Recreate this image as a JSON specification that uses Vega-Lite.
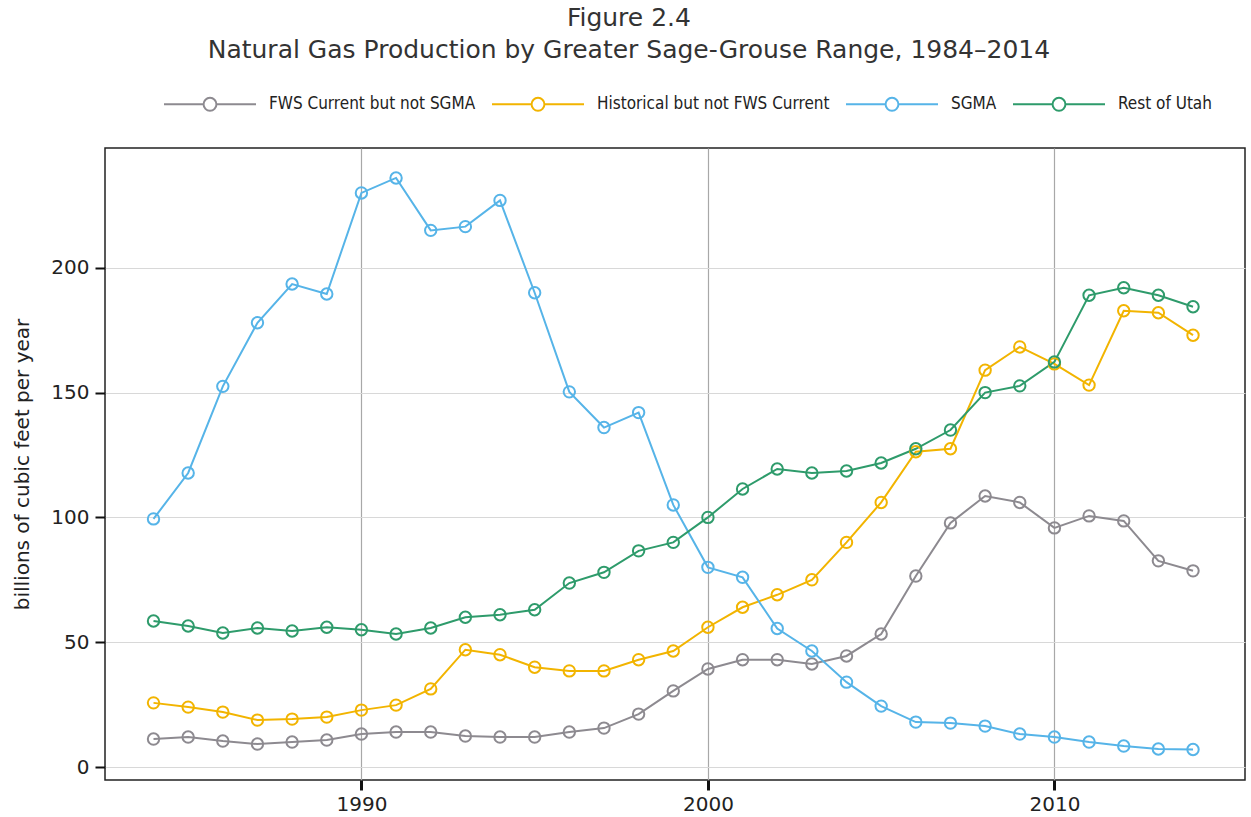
{
  "$schema": "https://vega.github.io/schema/vega-lite/v6.json",
  "autosize": {"type": "none"},
  "width": 1140,
  "height": 632,
  "padding": {"left": 105, "top": 148, "right": 6, "bottom": 37},
  "background": "white",
  "title": {
    "text": ["Figure 2.4", "Natural Gas Production by Greater Sage-Grouse Range, 1984–2014"],
    "anchor": "middle",
    "frame": "bounds",
    "font": "DejaVu Sans",
    "fontSize": 25,
    "fontWeight": "normal",
    "color": "#333333",
    "lineHeight": 32,
    "offset": -6
  },
  "data": {
    "values": [
      {"year": 1984, "region": "FWS Current but not SGMA", "value": 11.2},
      {"year": 1985, "region": "FWS Current but not SGMA", "value": 12},
      {"year": 1986, "region": "FWS Current but not SGMA", "value": 10.4},
      {"year": 1987, "region": "FWS Current but not SGMA", "value": 9.2},
      {"year": 1988, "region": "FWS Current but not SGMA", "value": 10},
      {"year": 1989, "region": "FWS Current but not SGMA", "value": 10.8},
      {"year": 1990, "region": "FWS Current but not SGMA", "value": 13.2},
      {"year": 1991, "region": "FWS Current but not SGMA", "value": 14},
      {"year": 1992, "region": "FWS Current but not SGMA", "value": 14},
      {"year": 1993, "region": "FWS Current but not SGMA", "value": 12.4},
      {"year": 1994, "region": "FWS Current but not SGMA", "value": 12},
      {"year": 1995, "region": "FWS Current but not SGMA", "value": 12},
      {"year": 1996, "region": "FWS Current but not SGMA", "value": 14},
      {"year": 1997, "region": "FWS Current but not SGMA", "value": 15.6},
      {"year": 1998, "region": "FWS Current but not SGMA", "value": 21.2},
      {"year": 1999, "region": "FWS Current but not SGMA", "value": 30.5},
      {"year": 2000, "region": "FWS Current but not SGMA", "value": 39.3},
      {"year": 2001, "region": "FWS Current but not SGMA", "value": 43},
      {"year": 2002, "region": "FWS Current but not SGMA", "value": 43},
      {"year": 2003, "region": "FWS Current but not SGMA", "value": 41.3},
      {"year": 2004, "region": "FWS Current but not SGMA", "value": 44.5},
      {"year": 2005, "region": "FWS Current but not SGMA", "value": 53.3},
      {"year": 2006, "region": "FWS Current but not SGMA", "value": 76.5},
      {"year": 2007, "region": "FWS Current but not SGMA", "value": 97.8},
      {"year": 2008, "region": "FWS Current but not SGMA", "value": 108.6},
      {"year": 2009, "region": "FWS Current but not SGMA", "value": 106},
      {"year": 2010, "region": "FWS Current but not SGMA", "value": 95.8},
      {"year": 2011, "region": "FWS Current but not SGMA", "value": 100.6},
      {"year": 2012, "region": "FWS Current but not SGMA", "value": 98.6},
      {"year": 2013, "region": "FWS Current but not SGMA", "value": 82.6},
      {"year": 2014, "region": "FWS Current but not SGMA", "value": 78.6},
      {"year": 1984, "region": "Historical but not FWS Current", "value": 25.7},
      {"year": 1985, "region": "Historical but not FWS Current", "value": 24},
      {"year": 1986, "region": "Historical but not FWS Current", "value": 22},
      {"year": 1987, "region": "Historical but not FWS Current", "value": 18.8},
      {"year": 1988, "region": "Historical but not FWS Current", "value": 19.2},
      {"year": 1989, "region": "Historical but not FWS Current", "value": 20},
      {"year": 1990, "region": "Historical but not FWS Current", "value": 22.8},
      {"year": 1991, "region": "Historical but not FWS Current", "value": 24.8},
      {"year": 1992, "region": "Historical but not FWS Current", "value": 31.3},
      {"year": 1993, "region": "Historical but not FWS Current", "value": 47},
      {"year": 1994, "region": "Historical but not FWS Current", "value": 45},
      {"year": 1995, "region": "Historical but not FWS Current", "value": 40},
      {"year": 1996, "region": "Historical but not FWS Current", "value": 38.5},
      {"year": 1997, "region": "Historical but not FWS Current", "value": 38.5},
      {"year": 1998, "region": "Historical but not FWS Current", "value": 43},
      {"year": 1999, "region": "Historical but not FWS Current", "value": 46.5},
      {"year": 2000, "region": "Historical but not FWS Current", "value": 56},
      {"year": 2001, "region": "Historical but not FWS Current", "value": 64},
      {"year": 2002, "region": "Historical but not FWS Current", "value": 69},
      {"year": 2003, "region": "Historical but not FWS Current", "value": 75},
      {"year": 2004, "region": "Historical but not FWS Current", "value": 90},
      {"year": 2005, "region": "Historical but not FWS Current", "value": 106},
      {"year": 2006, "region": "Historical but not FWS Current", "value": 126.3},
      {"year": 2007, "region": "Historical but not FWS Current", "value": 127.5},
      {"year": 2008, "region": "Historical but not FWS Current", "value": 159},
      {"year": 2009, "region": "Historical but not FWS Current", "value": 168.3},
      {"year": 2010, "region": "Historical but not FWS Current", "value": 161.5},
      {"year": 2011, "region": "Historical but not FWS Current", "value": 153},
      {"year": 2012, "region": "Historical but not FWS Current", "value": 182.8},
      {"year": 2013, "region": "Historical but not FWS Current", "value": 182},
      {"year": 2014, "region": "Historical but not FWS Current", "value": 173},
      {"year": 1984, "region": "SGMA", "value": 99.4},
      {"year": 1985, "region": "SGMA", "value": 117.8},
      {"year": 1986, "region": "SGMA", "value": 152.5},
      {"year": 1987, "region": "SGMA", "value": 178},
      {"year": 1988, "region": "SGMA", "value": 193.5},
      {"year": 1989, "region": "SGMA", "value": 189.5},
      {"year": 1990, "region": "SGMA", "value": 230},
      {"year": 1991, "region": "SGMA", "value": 236},
      {"year": 1992, "region": "SGMA", "value": 215},
      {"year": 1993, "region": "SGMA", "value": 216.5},
      {"year": 1994, "region": "SGMA", "value": 227},
      {"year": 1995, "region": "SGMA", "value": 190},
      {"year": 1996, "region": "SGMA", "value": 150.3},
      {"year": 1997, "region": "SGMA", "value": 136},
      {"year": 1998, "region": "SGMA", "value": 142},
      {"year": 1999, "region": "SGMA", "value": 105},
      {"year": 2000, "region": "SGMA", "value": 80},
      {"year": 2001, "region": "SGMA", "value": 76},
      {"year": 2002, "region": "SGMA", "value": 55.5},
      {"year": 2003, "region": "SGMA", "value": 46.5},
      {"year": 2004, "region": "SGMA", "value": 34},
      {"year": 2005, "region": "SGMA", "value": 24.4},
      {"year": 2006, "region": "SGMA", "value": 18},
      {"year": 2007, "region": "SGMA", "value": 17.6},
      {"year": 2008, "region": "SGMA", "value": 16.4},
      {"year": 2009, "region": "SGMA", "value": 13.2},
      {"year": 2010, "region": "SGMA", "value": 12},
      {"year": 2011, "region": "SGMA", "value": 10},
      {"year": 2012, "region": "SGMA", "value": 8.4},
      {"year": 2013, "region": "SGMA", "value": 7.2},
      {"year": 2014, "region": "SGMA", "value": 7},
      {"year": 1984, "region": "Rest of Utah", "value": 58.5},
      {"year": 1985, "region": "Rest of Utah", "value": 56.5},
      {"year": 1986, "region": "Rest of Utah", "value": 53.7},
      {"year": 1987, "region": "Rest of Utah", "value": 55.7},
      {"year": 1988, "region": "Rest of Utah", "value": 54.5},
      {"year": 1989, "region": "Rest of Utah", "value": 56},
      {"year": 1990, "region": "Rest of Utah", "value": 55},
      {"year": 1991, "region": "Rest of Utah", "value": 53.3},
      {"year": 1992, "region": "Rest of Utah", "value": 55.7},
      {"year": 1993, "region": "Rest of Utah", "value": 60},
      {"year": 1994, "region": "Rest of Utah", "value": 61},
      {"year": 1995, "region": "Rest of Utah", "value": 63},
      {"year": 1996, "region": "Rest of Utah", "value": 73.7},
      {"year": 1997, "region": "Rest of Utah", "value": 78},
      {"year": 1998, "region": "Rest of Utah", "value": 86.6},
      {"year": 1999, "region": "Rest of Utah", "value": 90},
      {"year": 2000, "region": "Rest of Utah", "value": 100},
      {"year": 2001, "region": "Rest of Utah", "value": 111.4},
      {"year": 2002, "region": "Rest of Utah", "value": 119.4},
      {"year": 2003, "region": "Rest of Utah", "value": 117.8},
      {"year": 2004, "region": "Rest of Utah", "value": 118.6},
      {"year": 2005, "region": "Rest of Utah", "value": 121.8},
      {"year": 2006, "region": "Rest of Utah", "value": 127.5},
      {"year": 2007, "region": "Rest of Utah", "value": 135},
      {"year": 2008, "region": "Rest of Utah", "value": 150},
      {"year": 2009, "region": "Rest of Utah", "value": 152.7},
      {"year": 2010, "region": "Rest of Utah", "value": 162.3},
      {"year": 2011, "region": "Rest of Utah", "value": 189},
      {"year": 2012, "region": "Rest of Utah", "value": 192},
      {"year": 2013, "region": "Rest of Utah", "value": 189},
      {"year": 2014, "region": "Rest of Utah", "value": 184.4}
    ]
  },
  "mark": {
    "type": "line",
    "strokeWidth": 2,
    "point": {"filled": false, "size": 130, "strokeWidth": 2}
  },
  "encoding": {
    "x": {
      "field": "year",
      "type": "quantitative",
      "scale": {"domain": [1982.6, 2015.5], "nice": false, "zero": false},
      "axis": {
        "values": [1990, 2000, 2010],
        "format": "d",
        "title": null,
        "grid": true,
        "gridColor": "#a8a8a8",
        "gridWidth": 1.2,
        "domain": false,
        "tickColor": "#111111",
        "tickSize": 10,
        "tickWidth": 3,
        "labelFont": "DejaVu Sans",
        "labelFontSize": 20,
        "labelColor": "#222222",
        "labelPadding": 4
      }
    },
    "y": {
      "field": "value",
      "type": "quantitative",
      "scale": {"domain": [-5.2, 248], "nice": false, "zero": false},
      "axis": {
        "values": [0, 50, 100, 150, 200],
        "title": "billions of cubic feet per year",
        "titleFont": "DejaVu Sans",
        "titleFontSize": 20,
        "titleFontWeight": "normal",
        "titleColor": "#222222",
        "titlePadding": 18,
        "grid": true,
        "gridColor": "#d8d8d8",
        "gridWidth": 1.2,
        "domain": false,
        "tickColor": "#111111",
        "tickSize": 10,
        "tickWidth": 2,
        "labelFont": "DejaVu Sans",
        "labelFontSize": 20,
        "labelColor": "#222222",
        "labelPadding": 6
      }
    },
    "color": {
      "field": "region",
      "type": "nominal",
      "scale": {
        "domain": ["FWS Current but not SGMA", "Historical but not FWS Current", "SGMA", "Rest of Utah"],
        "range": ["#8d8a90", "#f2b400", "#56b4e8", "#2e9b6b"]
      },
      "legend": {
        "title": null,
        "orient": "none",
        "legendX": 58,
        "legendY": -91,
        "direction": "horizontal",
        "symbolType": "M-1,0H-0.14M0.14,0H1M0.14,0A0.14,0.14 0 1 1 -0.14,0A0.14,0.14 0 1 1 0.14,0",
        "symbolSize": 8464,
        "symbolStrokeWidth": 2,
        "symbolFillColor": "transparent",
        "labelFont": "DejaVu Sans Condensed",
        "labelFontSize": 17,
        "labelColor": "#222222",
        "labelLimit": 400,
        "labelOffset": 12,
        "columnPadding": 12
      }
    }
  },
  "config": {
    "view": {"stroke": "#222222", "strokeWidth": 1.5}
  }
}
